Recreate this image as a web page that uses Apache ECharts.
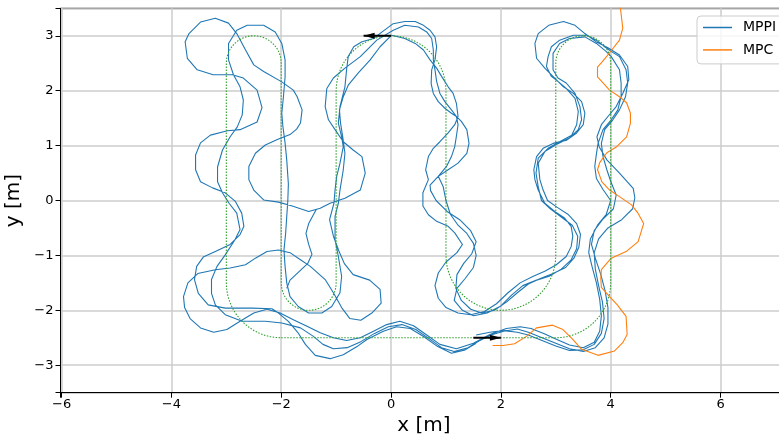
<!DOCTYPE html>
<html>
<head>
<meta charset="utf-8">
<script src="https://cdn.jsdelivr.net/npm/echarts@6/dist/echarts.min.js"></script>
<style>
  html, body { margin: 0; padding: 0; background: #fff; }
  #chart { width: 779px; height: 438px; }
</style>
</head>
<body>
<div id="chart"></div>
<script>
// Reference track: straight runs joined by circular turns [cx, cy, r, startDeg, endDeg]
const refStart = [-2, -2.5];
const refTurns = [
  [3, -1.5, 1, -90, 0],
  [3.5, 2.5, 0.5, 0, 180],
  [2, -1, 1, 0, -180],
  [0, 2, 1, 0, 180],
  [-1.5, -1.5, 0.5, 0, -180],
  [-2.5, 2.5, 0.5, 0, 180],
  [-2, -1.5, 1, 180, 270]
];

// Direction arrows: [x, y, dx, dy]
const arrows = [
  [0, 3, -0.5, 0],
  [1.5, -2.5, 0.5, 0]
];

// MPPI driven path, three laps around the track
const mppiLap1 = [
  [1.55,-2.45],[1.8,-2.4],[2.05,-2.37],[2.3,-2.4],
  [2.5,-2.45],[2.75,-2.55],[3.0,-2.65],[3.25,-2.73],[3.5,-2.72],[3.7,-2.62],[3.83,-2.42],[3.88,-2.15],[3.85,-1.85],[3.78,-1.55],[3.72,-1.25],[3.7,-0.95],[3.78,-0.7],[3.95,-0.5],[4.2,-0.35],[4.4,-0.15],[4.44,0.05],[4.41,0.22],[4.16,0.5],[3.93,0.74],[3.79,0.98],[3.75,1.16],[3.83,1.38],[3.95,1.53],[4.1,1.71],[4.22,1.95],[4.33,2.2],[4.31,2.44],[4.16,2.65],[3.95,2.78],[3.75,2.88],[3.53,3.04],[3.35,3.19],[3.14,3.26],[2.87,3.19],[2.68,3.04],[2.62,2.86],[2.65,2.59],[2.8,2.41],[2.98,2.23],[3.14,2.07],[3.32,1.95],[3.47,1.8],[3.53,1.59],[3.5,1.38],[3.38,1.23],[3.2,1.1],[2.95,1.04],[2.77,0.95],[2.65,0.8],[2.6,0.56],[2.62,0.38],[2.68,0.19],
  [2.8,-0.05],[2.98,-0.2],[3.16,-0.32],[3.28,-0.47],[3.31,-0.65],[3.28,-0.84],[3.19,-1.02],[3.01,-1.17],[2.8,-1.29],[2.59,-1.38],[2.35,-1.5],[2.13,-1.68],[1.92,-1.88],[1.7,-2.02],[1.45,-2.08],[1.22,-2.05],[1.0,-1.95],[0.86,-1.78],[0.8,-1.55],[0.86,-1.32],[1.0,-1.12],[1.2,-0.95],[1.3,-0.8],[1.16,-0.59],[1.04,-0.47],[0.83,-0.38],[0.68,-0.26],[0.58,-0.1],[0.58,0.14],[0.68,0.38],
  [0.63,0.56],[0.68,0.8],[0.77,0.95],[0.89,1.07],[1.04,1.23],[1.16,1.38],[1.22,1.53],[1.19,1.77],[1.13,1.95],[1.04,2.07],[0.92,2.26],[0.83,2.41],[0.71,2.56],[0.59,2.74],[0.44,2.86],[0.25,2.95],[0.01,3.01],
  [-0.2,2.8],[-0.38,2.56],[-0.6,2.32],[-0.78,2.1],[-0.87,1.89],[-0.94,1.65],[-0.92,1.41],[-0.88,1.16],[-0.84,0.86],[-0.87,0.56],[-0.93,0.19],
  [-0.96,-0.05],[-1.02,-0.29],[-1.02,-0.71],[-0.96,-1.02],[-0.9,-1.38],[-0.93,-1.68],[-1.08,-1.93],[-1.26,-2.05],[-1.5,-2.05],[-1.69,-1.93],[-1.84,-1.75],[-1.9,-1.5],
  [-1.93,-1.2],[-1.95,-0.9],[-1.92,-0.6],[-1.9,-0.3],[-1.88,0.0],[-1.87,0.3],[-1.9,0.74],[-1.93,1.05],[-1.97,1.35],[-1.99,1.59],[-1.96,1.89],[-1.93,2.25],[-1.93,2.56],[-1.99,2.86],[-2.11,3.07],[-2.32,3.19],[-2.62,3.19],[-2.81,3.1],[-2.96,2.86],
  [-2.96,2.56],[-2.87,2.29],[-2.75,2.07],[-2.69,1.83],[-2.71,1.56],[-2.8,1.34],[-2.93,1.16],[-3.07,0.92],[-3.16,0.61],[-3.16,0.34],[-3.07,0.14],[-2.95,-0.05],[-2.81,-0.23],[-2.75,-0.53],[-2.84,-0.71],[-3.02,-0.99],[-3.17,-1.2],[-3.27,-1.44],[-3.27,-1.69],[-3.2,-1.9],[-3.02,-2.08],[-2.71,-2.2],[-2.29,-2.2],[-1.99,-2.23],[-1.65,-2.32],
  [-1.42,-2.47],[-1.24,-2.62],[-1.05,-2.7],[-0.8,-2.68],[-0.55,-2.57],[-0.3,-2.42],[-0.05,-2.3],[0.2,-2.26],[0.45,-2.35],[0.7,-2.52],[0.92,-2.68],[1.15,-2.75],[1.4,-2.68],[1.6,-2.56],[1.82,-2.45],[2.05,-2.38],[2.3,-2.34]
];
const mppiLap2 = [
  [2.5,-2.4],[2.75,-2.5],[3.0,-2.6],[3.25,-2.7],[3.5,-2.75],[3.72,-2.68],[3.88,-2.5],[3.95,-2.25],[3.95,-1.95],[3.9,-1.65],[3.82,-1.35],[3.72,-1.05],[3.65,-0.8],[3.7,-0.55],[3.85,-0.35],[4.05,-0.15],[4.1,0.1],[4.0,0.35],[3.93,0.56],[3.86,0.8],[3.83,1.04],[3.89,1.29],[4.04,1.47],[4.16,1.65],[4.27,1.89],[4.31,2.14],[4.28,2.38],[4.16,2.62],[4.0,2.72],[3.89,2.8],[3.74,2.92],[3.56,3.01],[3.32,3.01],[3.07,2.92],[2.92,2.8],[2.86,2.62],[2.83,2.44],[2.92,2.26],[3.04,2.17],[3.19,2.04],[3.35,1.86],[3.41,1.62],[3.38,1.38],[3.29,1.19],[3.07,1.07],[2.86,0.95],[2.68,0.77],[2.64,0.5],[2.68,0.25],
  [2.74,0.0],[2.9,-0.15],[3.1,-0.3],[3.3,-0.45],[3.4,-0.65],[3.38,-0.88],[3.28,-1.08],[3.1,-1.25],[2.88,-1.38],[2.65,-1.45],[2.4,-1.55],[2.2,-1.72],[2.0,-1.92],[1.75,-2.05],[1.5,-2.1],[1.3,-2.0],[1.15,-1.82],[1.2,-1.6],[1.35,-1.42],[1.5,-1.22],[1.55,-1.0],[1.5,-0.78],[1.38,-0.6],[1.22,-0.45],[1.08,-0.25],[1.0,0.0],[0.95,0.25],[0.86,0.44],
  [1.04,0.56],[1.22,0.68],[1.38,0.86],[1.42,1.04],[1.38,1.29],[1.28,1.44],[1.19,1.53],[1.1,1.59],[0.98,1.68],[0.86,1.8],[0.77,1.95],[0.73,2.13],[0.74,2.38],[0.8,2.56],[0.83,2.8],[0.8,2.98],[0.71,3.1],[0.59,3.19],[0.44,3.26],[0.25,3.26],
  [0.04,3.22],[-0.15,3.08],[-0.32,2.95],[-0.53,2.89],[-0.68,2.8],[-0.78,2.62],[-0.81,2.38],[-0.84,2.07],[-0.93,1.71],[-0.96,1.41],[-0.9,1.16],[-0.87,0.98],[-0.93,0.68],[-0.99,0.44],[-1.02,0.19],
  [-1.04,-0.05],[-1.12,-0.35],[-1.05,-0.65],[-0.95,-0.92],[-0.85,-1.15],[-0.69,-1.35],[-0.39,-1.45],[-0.2,-1.62],[-0.18,-1.87],[-0.35,-2.05],[-0.55,-2.18],[-0.75,-2.15],[-0.9,-1.95],[-1.05,-1.68],[-1.2,-1.44],[-1.47,-1.2],[-1.65,-1.08],[-1.84,-0.95],[-2.05,-0.9],[-2.26,-0.93],[-2.47,-1.05],[-2.65,-1.17],[-2.93,-1.23],[-3.2,-1.26],[-3.52,-1.33],[-3.7,-1.5],[-3.78,-1.75],[-3.76,-1.95],[-3.66,-2.15],[-3.47,-2.32],[-3.23,-2.4],[-2.99,-2.35],[-2.75,-2.2],[-2.5,-2.05],[-2.26,-1.98],[-2.02,-2.05],[-1.78,-2.17],[-1.53,-2.29],[-1.29,-2.41],[-1.05,-2.5],[-0.81,-2.55],[-0.56,-2.5],[-0.32,-2.38],[-0.08,-2.26],[0.16,-2.2],[0.41,-2.28],[0.65,-2.45],[0.89,-2.62],[1.19,-2.7],[1.5,-2.6],[1.8,-2.44],[2.1,-2.33],[2.35,-2.3]
];
const mppiLap3 = [
  [2.55,-2.33],[2.78,-2.42],[3.0,-2.52],[3.25,-2.63],[3.5,-2.68],[3.7,-2.58],[3.8,-2.38],[3.83,-2.1],[3.8,-1.8],[3.74,-1.5],[3.66,-1.2],[3.6,-0.95],[3.63,-0.7],[3.76,-0.45],[3.92,-0.25],[4.0,0.0],[3.86,0.2],[3.74,0.4],[3.71,0.62],[3.74,0.85],[3.77,1.04],[3.86,1.29],[4.01,1.47],[4.13,1.65],[4.19,1.89],[4.19,2.14],[4.16,2.38],[4.01,2.62],[3.92,2.71],[3.74,2.86],[3.53,2.98],[3.25,2.95],[3.07,2.86],[2.95,2.68],[2.95,2.38],[3.04,2.23],[3.19,2.14],[3.35,1.95],[3.44,1.71],[3.47,1.47],[3.41,1.29],[3.25,1.14],[3.01,1.02],[2.8,0.89],[2.68,0.68],[2.71,0.38],[2.77,0.19],
  [2.85,0.0],[3.02,-0.12],[3.22,-0.25],[3.38,-0.42],[3.45,-0.62],[3.42,-0.85],[3.33,-1.05],[3.18,-1.22],[2.95,-1.33],[2.72,-1.42],[2.5,-1.52],[2.3,-1.68],[2.1,-1.85],[1.88,-2.0],[1.65,-2.05],[1.45,-1.98],[1.28,-1.82],[1.18,-1.6],[1.2,-1.35],[1.32,-1.15],[1.47,-0.97],[1.55,-0.75],[1.45,-0.55],[1.25,-0.35],[1.02,-0.2],[0.82,0.0],[0.72,0.18],[0.71,0.28],
  [0.86,0.44],[1.01,0.62],[1.1,0.8],[1.16,0.98],[1.19,1.17],[1.22,1.38],[1.19,1.53],[1.1,1.65],[0.98,1.8],[0.89,1.95],[0.83,2.17],[0.8,2.38],[0.77,2.56],[0.77,2.74],[0.74,2.95],[0.65,3.07],[0.5,3.16],[0.25,3.19],
  [0.04,3.1],[-0.26,2.92],[-0.56,2.62],[-0.84,2.41],[-1.05,2.23],[-1.17,2.04],[-1.2,1.71],[-1.14,1.47],[-1.02,1.29],[-0.87,1.07],[-0.69,0.92],[-0.53,0.8],[-0.47,0.5],[-0.56,0.19],
  [-0.84,0.04],[-1.11,-0.05],[-1.29,-0.14],[-1.5,-0.2],[-1.8,-0.1],[-2.05,-0.03],[-2.32,0.01],[-2.5,0.19],[-2.59,0.38],[-2.59,0.62],[-2.47,0.86],[-2.29,1.01],[-2.05,1.12],[-1.84,1.2],[-1.72,1.3],[-1.65,1.41],[-1.62,1.65],[-1.71,1.89],[-1.78,2.01],[-1.99,2.16],[-2.32,2.35],[-2.5,2.47],[-2.65,2.74],[-2.81,3.04],[-2.96,3.23],[-3.2,3.32],[-3.47,3.25],[-3.68,3.04],[-3.75,2.89],[-3.71,2.59],[-3.53,2.38],[-3.24,2.29],[-2.89,2.29],[-2.69,2.23],[-2.44,2.01],[-2.35,1.69],[-2.44,1.43],[-2.75,1.29],[-2.98,1.27],[-3.29,1.19],[-3.47,1.05],[-3.56,0.83],[-3.56,0.56],[-3.47,0.34],[-3.25,0.23],[-3.02,0.14],[-2.84,-0.01],[-2.72,-0.23],[-2.68,-0.47],[-2.75,-0.62],[-2.93,-0.8],[-3.2,-0.93],[-3.42,-1.03],[-3.54,-1.2],[-3.58,-1.44],[-3.51,-1.69],[-3.33,-1.9],[-3.02,-1.96],[-2.53,-1.96],[-2.17,-1.97],[-2.05,-2.05],[-1.87,-2.2],
  [-1.7,-2.4],[-1.56,-2.62],[-1.38,-2.82],[-1.11,-2.88],[-0.87,-2.81],[-0.62,-2.66],[-0.44,-2.53],[-0.14,-2.38],[0.1,-2.3],[0.35,-2.33],[0.6,-2.48],[0.85,-2.66],[1.1,-2.78],[1.35,-2.72],[1.55,-2.6]
];
const mppiSpur = [
  [-1.36,-0.16],[-1.5,-0.42],[-1.55,-0.6],[-1.5,-0.8],[-1.44,-0.98],[-1.52,-1.15],[-1.68,-1.3],[-1.84,-1.45],[-1.9,-1.6]
];

// MPC driven path
const mpcPath = [
  [1.85,-2.64],[2.04,-2.64],[2.25,-2.61],[2.47,-2.47],[2.65,-2.32],[2.94,-2.27],[3.13,-2.35],[3.31,-2.53],[3.47,-2.71],[3.77,-2.82],[4.07,-2.74],[4.22,-2.59],[4.3,-2.44],[4.28,-2.11],[4.12,-1.9],[3.98,-1.75],[3.83,-1.58],[3.82,-1.42],[3.83,-1.26],[4.01,-1.05],[4.28,-0.93],[4.5,-0.75],[4.6,-0.42],[4.49,-0.22],[4.38,-0.08],[4.16,0.07],[3.98,0.19],[3.84,0.34],[3.76,0.56],[3.8,0.69],[3.93,0.87],[4.11,0.98],[4.29,1.16],[4.36,1.41],[4.36,1.59],[4.29,1.78],[4.16,1.89],[3.98,2.01],[3.76,2.25],[3.76,2.43],[3.84,2.52],[3.98,2.69],[4.16,2.92],[4.22,3.14],[4.16,3.65]
];

// Sample the reference track: straight runs connect consecutive turns
function trackPoints() {
  const pts = [refStart.slice()];
  refTurns.forEach(([cx, cy, r, a0, a1]) => {
    const n = Math.max(6, Math.round(Math.abs(a1 - a0) / 6));
    for (let i = 0; i <= n; i++) {
      const a = (a0 + (a1 - a0) * i / n) * Math.PI / 180;
      pts.push([cx + r * Math.cos(a), cy + r * Math.sin(a)]);
    }
  });
  return pts;
}

const minus = v => {
  const r = Math.round(v);
  if (Math.abs(v - r) > 1e-6) return '';
  return r < 0 ? '\u2212' + (-r) : String(r);
};

const FONT = 'DejaVu Sans';
const BLUE = '#1f77b4', ORANGE = '#ff7f0e', GREEN = '#2ca02c';

const arrowSeries = arrows.map(([x, y, dx, dy]) => {
  const left = dx < 0;
  return {
    type: 'line', silent: true, z: 6,
    lineStyle: { color: '#000', width: 2 },
    data: [
      { value: [x, y], symbol: 'none' },
      { value: [x + dx, y + dy], symbol: 'triangle', symbolSize: [6, 11],
        symbolRotate: left ? 90 : -90, symbolOffset: [left ? 5.5 : -5.5, 0],
        itemStyle: { color: '#000' } }
    ]
  };
});

const chart = echarts.init(document.getElementById('chart'), null, { renderer: 'canvas' });
chart.setOption({
  animation: false,
  grid: { left: 60.5, right: -8.5, top: 8.3, bottom: 45.3, show: true,
          containLabel: false, outerBoundsMode: 'none',
          borderColor: '#000', borderWidth: 1, backgroundColor: 'transparent' },
  legend: {
    data: ['MPPI', 'MPC'], orient: 'vertical', left: 697, top: 16,
    icon: 'rect', itemWidth: 29, itemHeight: 1.5, itemGap: 8.4,
    padding: [4.5, 10, 7, 6],
    backgroundColor: 'rgba(255,255,255,0.8)', borderColor: '#cccccc', borderWidth: 1, borderRadius: 4,
    textStyle: { fontFamily: FONT, fontSize: 14, lineHeight: 14, color: '#000', padding: [0, 0, 0, 6] }
  },
  xAxis: {
    type: 'value', min: -6.02, max: 7.22, splitNumber: 7,
    name: 'x [m]', nameLocation: 'middle', nameGap: 20,
    nameTextStyle: { fontFamily: FONT, fontSize: 20, color: '#000' },
    axisLine: { show: true, onZero: false, lineStyle: { color: '#000', width: 1 } },
    axisTick: { show: true, length: 5, lineStyle: { color: '#000', width: 1 } },
    axisLabel: { fontFamily: FONT, fontSize: 13, color: '#000', margin: 5, formatter: minus,
                 showMinLabel: true, showMaxLabel: true },
    splitLine: { show: true, lineStyle: { color: '#cccccc', width: 1.5 } }
  },
  yAxis: {
    type: 'value', min: -3.5, max: 3.5, splitNumber: 7,
    name: 'y [m]', nameLocation: 'middle', nameGap: 27, nameRotate: 90,
    nameTextStyle: { fontFamily: FONT, fontSize: 20, color: '#000' },
    axisLine: { show: true, onZero: false, lineStyle: { color: '#000', width: 1 } },
    axisTick: { show: true, length: 5, lineStyle: { color: '#000', width: 1 } },
    axisLabel: { fontFamily: FONT, fontSize: 13, color: '#000', margin: 7, formatter: minus },
    splitLine: { show: true, lineStyle: { color: '#cccccc', width: 1.5 } }
  },
  series: [
    { name: 'MPPI', type: 'line', data: mppiLap1.concat(mppiLap2, mppiLap3), symbol: 'none',
      lineStyle: { color: BLUE, width: 1.1, join: 'round' }, itemStyle: { color: BLUE }, z: 3 },
    { name: 'MPPI', type: 'line', data: mppiSpur, symbol: 'none',
      lineStyle: { color: BLUE, width: 1.1, join: 'round' }, itemStyle: { color: BLUE }, z: 3 },
    { name: 'MPC', type: 'line', data: mpcPath, symbol: 'none',
      lineStyle: { color: ORANGE, width: 1.1, join: 'round' }, itemStyle: { color: ORANGE }, z: 3 },
    { name: 'reference', type: 'line', data: trackPoints(), symbol: 'none', silent: true,
      lineStyle: { color: GREEN, width: 1.1, type: [1.5, 1.5] }, z: 4 }
  ].concat(arrowSeries)
});
</script>
</body>
</html>
